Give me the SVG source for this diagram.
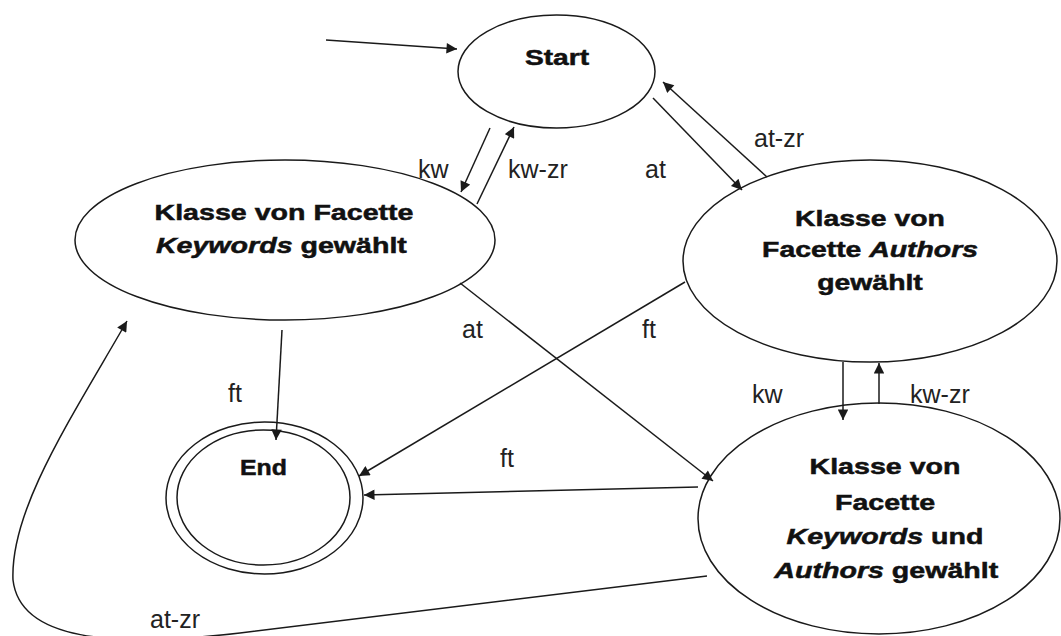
<svg xmlns="http://www.w3.org/2000/svg" width="1061" height="636" viewBox="0 0 1061 636">
  <style>
    .state { fill: #ffffff; stroke: #1a1a1a; stroke-width: 1.5; }
    .edge { fill: none; stroke: #1a1a1a; stroke-width: 1.5; marker-end: url(#arrow); }
    .name { font-family: "Liberation Sans", Arial, sans-serif; font-size: 22px; font-weight: bold; fill: #111111; stroke: #111111; stroke-width: 0.5; text-anchor: middle; }
    .name .it { font-style: italic; }
    .lbl { font-family: "Liberation Sans", Arial, sans-serif; font-size: 25px; fill: #222222; }
  </style>
  <defs>
    <marker id="arrow" viewBox="0 0 10 10" refX="10" refY="5" markerWidth="8" markerHeight="7" orient="auto" markerUnits="strokeWidth">
      <path d="M0,0 L10,5 L0,10 z" fill="#1a1a1a"/>
    </marker>
  </defs>
  <rect width="1061" height="636" fill="#ffffff"/>

  <g id="start">
    <ellipse class="state" cx="556.5" cy="71.5" rx="98.5" ry="56.5"/>
    <g transform="translate(557 0) scale(1.28 1)">
      <text class="name" x="0" y="65">Start</text>
    </g>
  </g>

  <g id="keywords">
    <ellipse class="state" cx="285" cy="240" rx="210" ry="80"/>
    <g transform="translate(284 0) scale(1.3 1)">
      <text class="name" x="0" y="220">Klasse von Facette</text>
      <text class="name" x="-2" y="253"><tspan class="it">Keywords</tspan> gewählt</text>
    </g>
  </g>

  <g id="authors">
    <ellipse class="state" cx="870" cy="261" rx="187" ry="101"/>
    <g transform="translate(870 0) scale(1.29 1)">
      <text class="name" x="0" y="226">Klasse von</text>
      <text class="name" x="0" y="257">Facette <tspan class="it">Authors</tspan></text>
      <text class="name" x="0" y="290">gewählt</text>
    </g>
  </g>

  <g id="keywords-authors">
    <ellipse class="state" cx="879" cy="518.5" rx="181" ry="115.5"/>
    <g transform="translate(885 0) scale(1.3 1)">
      <text class="name" x="0" y="474">Klasse von</text>
      <text class="name" x="0" y="510">Facette</text>
      <text class="name" x="0" y="544"><tspan class="it">Keywords</tspan>  und</text>
      <text class="name" x="1" y="578"><tspan class="it">Authors</tspan> gewählt</text>
    </g>
  </g>

  <g id="end">
    <ellipse class="state" cx="264.5" cy="498" rx="98.5" ry="76"/>
    <ellipse class="state" cx="263.5" cy="497.5" rx="86.5" ry="67.5"/>
    <g transform="translate(263.5 0) scale(1.13 1)">
      <text class="name" x="0" y="475">End</text>
    </g>
  </g>

  <!-- transitions, drawn over the states so the arrowheads stay visible -->
  <g id="connectors">
    <!-- initial arrow into Start -->
    <path class="edge" d="M326,40 L457,49"/>
    <!-- Start <-> Keywords -->
    <path class="edge" d="M490,128 L461,192"/>
    <path class="edge" d="M477,204 L514,127"/>
    <!-- Start <-> Authors -->
    <path class="edge" d="M653,98 L742,190"/>
    <path class="edge" d="M767,177 L663,82"/>
    <!-- Authors -> End -->
    <path class="edge" d="M685,282 L359,476"/>
    <!-- Keywords -> Keywords+Authors -->
    <path class="edge" d="M460,283 L713,481"/>
    <!-- Keywords+Authors -> End -->
    <path class="edge" d="M698,487 L364,495"/>
    <!-- Keywords -> End -->
    <path class="edge" d="M282,330 L276,440"/>
    <!-- Authors <-> Keywords+Authors -->
    <path class="edge" d="M843,362 L843,420"/>
    <path class="edge" d="M879,404 L879,363"/>
    <!-- Keywords+Authors back to Keywords -->
    <path class="edge" d="M707,576 L240,633 C110,648 20,640 13,580 C10,510 70,420 127,321"/>

    <text class="lbl" x="418" y="178">kw</text>
    <text class="lbl" x="508" y="178">kw-zr</text>
    <text class="lbl" x="645" y="178">at</text>
    <text class="lbl" x="754" y="147">at-zr</text>
    <text class="lbl" x="462" y="338">at</text>
    <text class="lbl" x="642" y="338">ft</text>
    <text class="lbl" x="228" y="402">ft</text>
    <text class="lbl" x="500" y="467">ft</text>
    <text class="lbl" x="752" y="403">kw</text>
    <text class="lbl" x="910" y="403">kw-zr</text>
    <text class="lbl" x="150" y="628">at-zr</text>
  </g>
</svg>
